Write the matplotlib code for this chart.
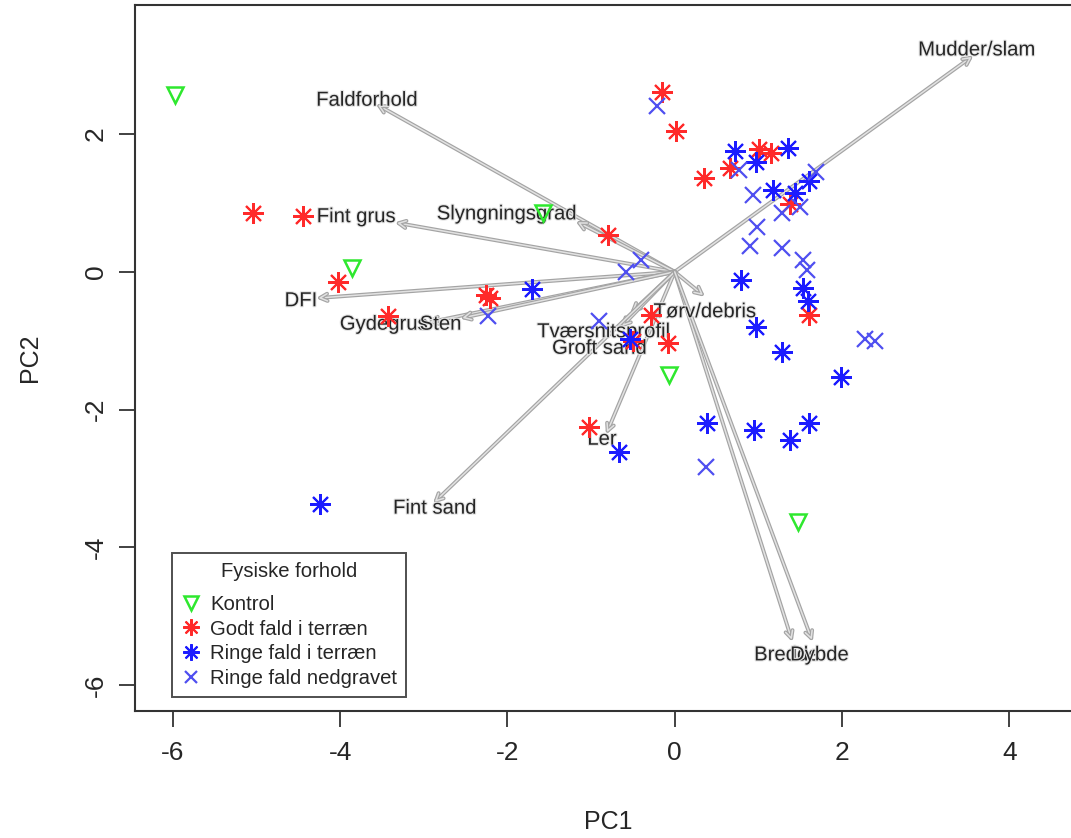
import matplotlib
matplotlib.use("Agg")
import matplotlib.pyplot as plt
import matplotlib.patheffects as pe

plt.rcParams['font.family'] = ['Liberation Sans', 'DejaVu Sans']

# ---- data ----
kontrol_x = [-5.975, -3.86, -1.58, -0.07, 1.47]
kontrol_y = [2.56, 0.055, 0.85, -1.50, -3.63]

godt_x = [-5.04, -4.44, -4.03, -3.43, -2.26, -2.21, -0.80, -0.15, 0.01, 1.01,
          1.15, 0.66, 0.35, 1.38, 1.61, -0.28, -0.08, -0.50, -1.03]
godt_y = [0.85, 0.81, -0.15, -0.64, -0.34, -0.38, 0.53, 2.61, 2.05, 1.78,
          1.73, 1.50, 1.36, 0.98, -0.63, -0.63, -1.03, -1.01, -2.25]

ringe_terr_x = [-4.24, -1.71, 0.72, 1.36, 0.97, 1.17, 1.44, 1.61, 0.79, 1.53,
                1.59, 0.97, 1.28, 1.99, 0.39, 0.95, 1.38, 1.61, -0.67, -0.53]
ringe_terr_y = [-3.37, -0.25, 1.76, 1.79, 1.60, 1.18, 1.14, 1.32, -0.12, -0.24,
                -0.43, -0.80, -1.16, -1.53, -2.19, -2.30, -2.44, -2.20, -2.61, -0.97]

ringe_ned_x = [-0.21, 0.77, 0.94, 1.50, 1.28, 1.69, 0.98, 0.90, 1.28, 1.53,
               1.58, -0.40, -0.58, -2.23, -0.90, 2.27, 2.39, 0.38]
ringe_ned_y = [2.41, 1.48, 1.11, 0.94, 0.85, 1.45, 0.65, 0.37, 0.35, 0.17,
               0.03, 0.17, -0.01, -0.64, -0.71, -0.98, -1.00, -2.83]

var_names = ['Mudder/slam', 'Faldforhold', 'Fint grus', 'Slyngningsgrad', 'DFI',
             'Gydegrus', 'Sten', 'Tværsnitsprofil', 'Groft sand', 'Tørv/debris',
             'Ler', 'Fint sand', 'Bredde', 'Dybde']
load_x = [3.55, -3.55, -3.32, -1.16, -4.26, -2.93, -2.54, -0.51, -0.63, 0.34,
          -0.81, -2.87, 1.40, 1.64]
load_y = [3.12, 2.42, 0.71, 0.72, -0.38, -0.73, -0.67, -0.58, -0.79, -0.34,
          -2.33, -3.34, -5.34, -5.34]
label_x = [3.61, -3.68, -3.81, -2.01, -4.47, -3.48, -2.80, -0.85, -0.90, 0.36,
           -0.87, -2.87, 1.34, 1.73]
label_y = [3.22, 2.49, 0.80, 0.84, -0.42, -0.76, -0.76, -0.87, -1.11, -0.58,
           -2.43, -3.43, -5.56, -5.56]

group_labels = ['Kontrol', 'Godt fald i terræn', 'Ringe fald i terræn', 'Ringe fald nedgravet']
legend_title = 'Fysiske forhold'
x_ticks = [-6, -4, -2, 0, 2, 4]
y_ticks = [-6, -4, -2, 0, 2]

# ---- figure ----
W, H = 1071, 838
fig = plt.figure(figsize=(W / 100, H / 100), dpi=100)
left_px, right_px, top_px, bottom_px = 135, 1082, 5, 711
ax = fig.add_axes([left_px / W, 1 - bottom_px / H, (right_px - left_px) / W,
                   (bottom_px - top_px) / H])
ax.set_xlim(-6.453, 4.87)
ax.set_ylim(-6.374, 3.872)

# arrows
arrow_fx = [pe.Stroke(linewidth=2.8, foreground='#a4a4a4'), pe.Normal()]
for nx, ny in zip(load_x, load_y):
    ax.annotate('', xy=(nx, ny), xytext=(0, 0),
                arrowprops=dict(arrowstyle='->', color='#e2e2e2', lw=1.1,
                                mutation_scale=13, shrinkA=0, shrinkB=0,
                                path_effects=arrow_fx),
                zorder=1)

# variable labels
for name, lx, ly in zip(var_names, label_x, label_y):
    ax.text(lx, ly, name, ha='center', va='center', fontsize=14.6,
            color='#262626', zorder=2,
            path_effects=[pe.withStroke(linewidth=1.6, foreground='#e4e4e4')])

# points
star = (8, 2, 0)
h1, = ax.plot(kontrol_x, kontrol_y, ls='none', marker='v', ms=12,
              mfc='none', mec='#2ee82e', mew=1.8, zorder=3)
h2, = ax.plot(godt_x, godt_y, ls='none', marker=star, ms=15,
              mec='#ff2a2a', mew=1.5, zorder=3)
h3, = ax.plot(ringe_terr_x, ringe_terr_y, ls='none', marker=star, ms=15,
              mec='#1c1cff', mew=1.5, zorder=3)
h4, = ax.plot(ringe_ned_x, ringe_ned_y, ls='none', marker='x', ms=11,
              mec='#4f4ff0', mew=1.6, zorder=3)

# legend
leg = ax.legend([h1, h2, h3, h4], group_labels, title=legend_title,
                loc='lower left', bbox_to_anchor=(0.0386, 0.0198),
                borderaxespad=0, fontsize=14.6, title_fontsize=14.6,
                frameon=True, fancybox=False, edgecolor='#222222',
                handlelength=1.0, handletextpad=0.45, labelspacing=0.28,
                borderpad=0.45, markerscale=0.8)
leg.get_frame().set_linewidth(1.4)
leg._legend_box.sep = 10
for t in leg.get_texts():
    t.set_color('#262626')
leg.get_title().set_color('#262626')

# axes styling (R base look)
for side in ['left', 'bottom', 'top', 'right']:
    ax.spines[side].set_color('#333333')
    ax.spines[side].set_linewidth(1.5)
ax.set_xticks(x_ticks)
ax.set_yticks(y_ticks)
ax.set_xticklabels([str(v) for v in x_ticks])
ax.set_yticklabels([str(v) for v in y_ticks])
ax.tick_params(axis='both', direction='out', length=11.5, width=1.3,
               color='#333333', labelsize=19, labelcolor='#262626')
ax.tick_params(axis='x', pad=10)
ax.tick_params(axis='y', pad=8)
for lab in ax.get_yticklabels():
    lab.set_rotation(90)
    lab.set_va('center')

ax.set_xlabel('PC1', fontsize=18, color='#262626')
ax.set_ylabel('PC2', fontsize=18, color='#262626')
ax.xaxis.set_label_coords(0.5, -0.157)
ax.xaxis.label.set_va('center')
ax.yaxis.set_label_coords(-0.111, 0.5)
ax.yaxis.label.set_va('center')

fig.savefig('out.png', dpi=100)
